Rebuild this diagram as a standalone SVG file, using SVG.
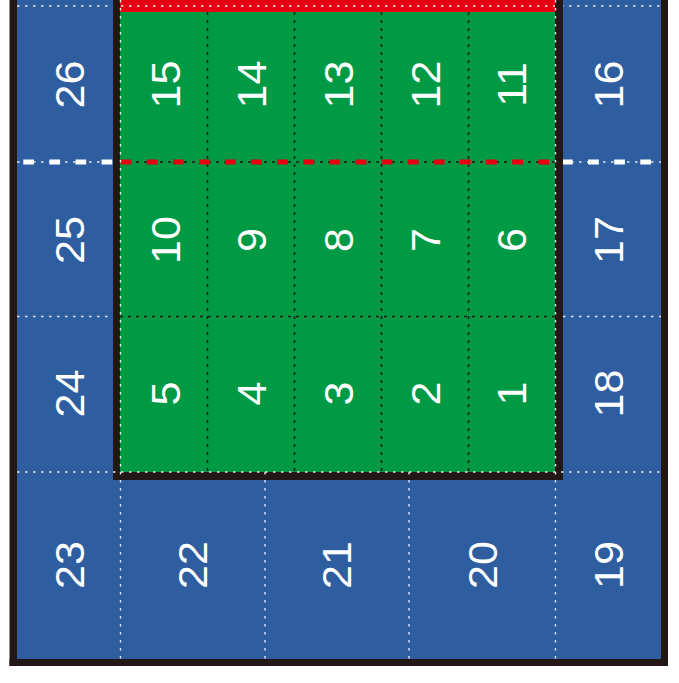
<svg xmlns="http://www.w3.org/2000/svg" width="679" height="683" viewBox="0 0 679 683">
<style>
.bg{fill:#ffffff}
.blue{fill:#2e5ea0}
.green{fill:#009944}
.red{fill:#e60012}
.blk{fill:#231815}
.lbl{font-family:"Liberation Sans",Arial,sans-serif;font-size:41px;fill:#ffffff;text-anchor:middle}
.wd{stroke:#e2e6ee;stroke-width:1.4;stroke-dasharray:2.5 5.5;fill:none}
.kd{stroke:#231815;stroke-width:1.5;stroke-dasharray:3 5;fill:none}
.wthick{stroke:#ffffff;stroke-width:5;stroke-dasharray:10.7 15.4;fill:none}
.rthick{stroke:#e60012;stroke-width:5;stroke-dasharray:10.7 15.4;fill:none}
</style>
<rect class="bg" x="0" y="0" width="679" height="683"/>
<g id="areas">
<rect class="blue" x="17" y="0" width="644" height="659"/>
<rect class="green" x="120" y="0" width="435" height="472"/>
<rect class="red" x="120" y="0" width="435" height="12"/>
</g>
<g id="connectors">
<line class="wd" x1="17" y1="6" x2="661" y2="6"/>
<line class="wd" x1="17" y1="162" x2="113" y2="162"/>
<line class="wd" x1="563" y1="162" x2="661" y2="162"/>
<line class="wd" x1="17" y1="316.5" x2="113" y2="316.5"/>
<line class="wd" x1="563" y1="316.5" x2="661" y2="316.5"/>
<line class="kd" x1="120" y1="162" x2="555" y2="162"/>
<line class="kd" x1="120" y1="316.5" x2="555" y2="316.5"/>
<line class="kd" x1="207.5" y1="12" x2="207.5" y2="472"/>
<line class="kd" x1="294.5" y1="12" x2="294.5" y2="472"/>
<line class="kd" x1="381.5" y1="12" x2="381.5" y2="472"/>
<line class="kd" x1="468.5" y1="12" x2="468.5" y2="472"/>
<line class="wthick" x1="23.3" y1="162" x2="113" y2="162"/>
<line class="wthick" x1="562" y1="162" x2="661" y2="162"/>
<line class="rthick" x1="120.7" y1="162" x2="555" y2="162"/>
</g>
<g id="frames">
<rect class="blk" x="113" y="0" width="7" height="480"/>
<rect class="blk" x="555" y="0" width="8" height="480"/>
<rect class="blk" x="113" y="472" width="450" height="8"/>
<rect class="blk" x="9.5" y="0" width="7.5" height="666"/>
<rect class="blk" x="9.5" y="659" width="658.5" height="7"/>
<rect class="blk" x="661" y="0" width="7" height="666"/>
</g>
<g id="gridlines">
<line class="wd" x1="17" y1="472" x2="661" y2="472"/>
<line class="wd" x1="120.5" y1="0" x2="120.5" y2="659"/>
<line class="wd" x1="555.5" y1="0" x2="555.5" y2="659"/>
<line class="wd" x1="265" y1="472" x2="265" y2="659"/>
<line class="wd" x1="409" y1="472" x2="409" y2="659"/>
</g>
<g id="n26"><text class="lbl" transform="translate(83.7,84.5) rotate(-90) scale(1.05,1)">26</text></g>
<g id="n15"><text class="lbl" transform="translate(180,84.5) rotate(-90) scale(1.05,1)">15</text></g>
<g id="n14"><text class="lbl" transform="translate(265.5,84.5) rotate(-90) scale(1.05,1)">14</text></g>
<g id="n13"><text class="lbl" transform="translate(353,84.5) rotate(-90) scale(1.05,1)">13</text></g>
<g id="n12"><text class="lbl" transform="translate(439.5,84.5) rotate(-90) scale(1.05,1)">12</text></g>
<g id="n11"><text class="lbl" transform="translate(526,84.5) rotate(-90) scale(1.05,1)">11</text></g>
<g id="n16"><text class="lbl" transform="translate(622.7,84.5) rotate(-90) scale(1.05,1)">16</text></g>
<g id="n25"><text class="lbl" transform="translate(83.7,240) rotate(-90) scale(1.05,1)">25</text></g>
<g id="n10"><text class="lbl" transform="translate(180,240) rotate(-90) scale(1.05,1)">10</text></g>
<g id="n9"><text class="lbl" transform="translate(265.5,240) rotate(-90) scale(1.05,1)">9</text></g>
<g id="n8"><text class="lbl" transform="translate(353,240) rotate(-90) scale(1.05,1)">8</text></g>
<g id="n7"><text class="lbl" transform="translate(439.5,240) rotate(-90) scale(1.05,1)">7</text></g>
<g id="n6"><text class="lbl" transform="translate(526,240) rotate(-90) scale(1.05,1)">6</text></g>
<g id="n17"><text class="lbl" transform="translate(622.7,240) rotate(-90) scale(1.05,1)">17</text></g>
<g id="n24"><text class="lbl" transform="translate(83.7,393.5) rotate(-90) scale(1.05,1)">24</text></g>
<g id="n5"><text class="lbl" transform="translate(180,393.5) rotate(-90) scale(1.05,1)">5</text></g>
<g id="n4"><text class="lbl" transform="translate(265.5,393.5) rotate(-90) scale(1.05,1)">4</text></g>
<g id="n3"><text class="lbl" transform="translate(353,393.5) rotate(-90) scale(1.05,1)">3</text></g>
<g id="n2"><text class="lbl" transform="translate(439.5,393.5) rotate(-90) scale(1.05,1)">2</text></g>
<g id="n1"><text class="lbl" transform="translate(526,393.5) rotate(-90) scale(1.05,1)">1</text></g>
<g id="n18"><text class="lbl" transform="translate(622.7,393.5) rotate(-90) scale(1.05,1)">18</text></g>
<g id="n23"><text class="lbl" transform="translate(83.7,565) rotate(-90) scale(1.05,1)">23</text></g>
<g id="n22"><text class="lbl" transform="translate(207.3,565) rotate(-90) scale(1.05,1)">22</text></g>
<g id="n21"><text class="lbl" transform="translate(351,565) rotate(-90) scale(1.05,1)">21</text></g>
<g id="n20"><text class="lbl" transform="translate(496.7,565) rotate(-90) scale(1.05,1)">20</text></g>
<g id="n19"><text class="lbl" transform="translate(622.7,565) rotate(-90) scale(1.05,1)">19</text></g>
</svg>
